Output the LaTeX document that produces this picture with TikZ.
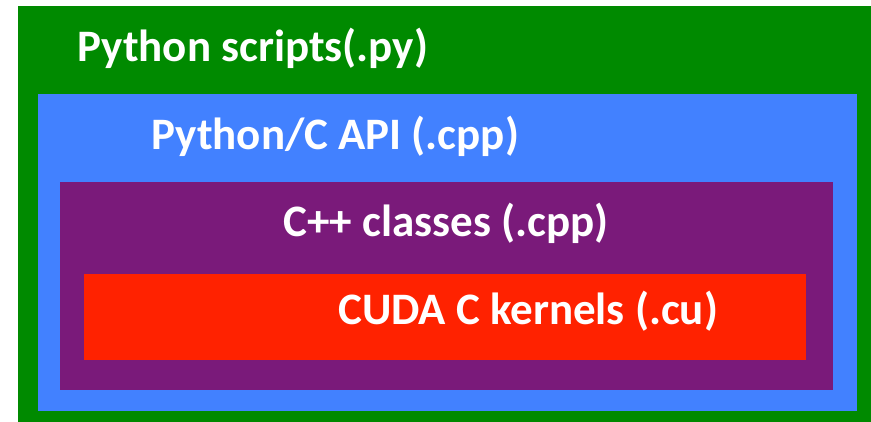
\documentclass[tikz,border=0pt]{standalone}
\usepackage{fontspec}
\setmainfont{Carlito}
\definecolor{pygreen}{HTML}{008A00}
\definecolor{apiblue}{HTML}{4281FF}
\definecolor{cpppurple}{HTML}{7A1A7A}
\definecolor{cudared}{HTML}{FF2200}
\begin{document}
\begin{tikzpicture}[x=1pt,y=-1pt,
  layer/.style={draw=none,inner sep=0pt,outer sep=0pt,anchor=north west},
  lbl/.style={text=white,font=\fontsize{45}{49}\selectfont\bfseries,anchor=base west,inner sep=0pt}]
\useasboundingbox (0,0) rectangle (871,422);
\fill[white] (0,0) rectangle (871,422);
\node[layer,fill=pygreen,minimum width=853pt,minimum height=416pt] (green) at (18,6) {};
\node[layer,fill=apiblue,minimum width=819pt,minimum height=317pt] (blue) at (38,94) {};
\node[layer,fill=cpppurple,minimum width=773pt,minimum height=208pt] (purple) at (60,182) {};
\node[layer,fill=cudared,minimum width=722pt,minimum height=86pt] (red) at (84,274) {};
\node[lbl] (t1) at (77,62) {Python scripts(.py)};
\node[lbl] (t2) at (151,150) {Python/C API (.cpp)};
\node[lbl] (t3) at (283,237) {C++ classes (.cpp)};
\node[lbl] (t4) at (338,325) {CUDA C kernels (.cu)};
\end{tikzpicture}
\end{document}
